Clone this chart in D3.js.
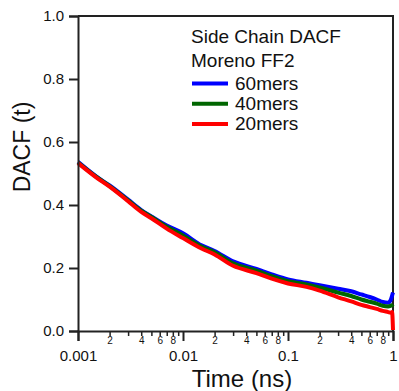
<!DOCTYPE html>
<html>
<head>
<meta charset="utf-8">
<script src="https://cdn.jsdelivr.net/npm/d3@7/dist/d3.min.js"></script>
<style>
  html, body { margin: 0; padding: 0; background: #fff; }
  svg { display: block; font-family: "Liberation Sans", Arial, sans-serif; }
</style>
</head>
<body>
<svg id="chart" width="399" height="391"></svg>
<script>
// ---- data ----
const times = [0.001, 0.0015, 0.002, 0.003, 0.004, 0.005, 0.007, 0.01, 0.015, 0.02, 0.03, 0.05, 0.07, 0.1, 0.15, 0.2, 0.3, 0.4, 0.5, 0.6, 0.7, 0.8, 0.9, 0.95, 0.98, 1.0];
const dacf60 = [0.537, 0.490, 0.462, 0.417, 0.384, 0.364, 0.335, 0.310, 0.272, 0.254, 0.221, 0.197, 0.180, 0.164, 0.153, 0.145, 0.134, 0.126, 0.116, 0.108, 0.100, 0.092, 0.090, 0.098, 0.112, 0.122];
const dacf40 = [0.535, 0.489, 0.460, 0.415, 0.382, 0.362, 0.331, 0.303, 0.268, 0.250, 0.215, 0.192, 0.174, 0.158, 0.148, 0.138, 0.122, 0.111, 0.100, 0.093, 0.087, 0.080, 0.078, 0.080, 0.082, 0.085];
const dacf20 = [0.533, 0.487, 0.458, 0.412, 0.378, 0.358, 0.325, 0.295, 0.262, 0.243, 0.207, 0.184, 0.166, 0.151, 0.140, 0.128, 0.107, 0.094, 0.083, 0.076, 0.070, 0.064, 0.060, 0.058, 0.060, 0.003];
const seriesNames = ["60mers", "40mers", "20mers"];
const seriesColors = ["#0000ff", "#006600", "#ff0000"];
const yTicks = [0, 0.2, 0.4, 0.6, 0.8, 1.0];
const xMajorTicks = [0.001, 0.01, 0.1, 1];
const xMajorLabels = ["0.001", "0.01", "0.1", "1"];
const legendTitle = ["Side Chain DACF", "Moreno FF2"];

// ---- layout ----
const svg = d3.select("#chart");
const L = 78, R = 393, T = 16, B = 331;
const x = d3.scaleLog().domain([0.001, 1]).range([L, R]);
const y = d3.scaleLinear().domain([0, 1]).range([B, T]);
const axisColor = "#222";

// frame (top and right)
svg.append("path")
  .attr("d", `M${L},${T}H${R}V${B}`)
  .attr("fill", "none").attr("stroke", axisColor).attr("stroke-width", 2);

// data lines
const series = [dacf60, dacf40, dacf20];
const line = d3.line().x((d, i) => x(times[i])).y(d => y(d)).curve(d3.curveMonotoneX);
series.forEach((vals, k) => {
  svg.append("path")
    .datum(vals)
    .attr("d", line)
    .attr("fill", "none")
    .attr("stroke", seriesColors[k])
    .attr("stroke-width", 4)
    .attr("stroke-linejoin", "round");
});

// y axis
const yAxis = d3.axisLeft(y).tickValues(yTicks).tickFormat(d3.format(".1f")).tickSize(9).tickPadding(5);
const gy = svg.append("g").attr("transform", `translate(${L},0)`).call(yAxis);
gy.select(".domain").attr("stroke", axisColor).attr("stroke-width", 2);
gy.selectAll(".tick line").attr("stroke", axisColor).attr("stroke-width", 2);
gy.selectAll(".tick text").attr("font-size", 15).attr("fill", "#111").attr("font-family", "Liberation Sans, Arial, sans-serif");

// x axis: major ticks
const xAxis = d3.axisBottom(x).tickValues(xMajorTicks)
  .tickFormat((d, i) => xMajorLabels[i]).tickSize(10).tickPadding(9);
const gx = svg.append("g").attr("transform", `translate(0,${B})`).call(xAxis);
gx.select(".domain").attr("stroke", axisColor).attr("stroke-width", 2);
gx.selectAll(".tick line").attr("stroke", axisColor).attr("stroke-width", 2);
gx.selectAll(".tick text").attr("font-size", 15).attr("fill", "#111").attr("font-family", "Liberation Sans, Arial, sans-serif");

// x axis: minor ticks with labels 2,4,6,8
const minorTicks = [];
[0.001, 0.01, 0.1].forEach(dec => { for (let m = 2; m <= 9; m++) minorTicks.push(dec * m); });
const xMinor = d3.axisBottom(x).tickValues(minorTicks)
  .tickFormat(d => { const m = Math.round(d / Math.pow(10, Math.floor(Math.log10(d) + 1e-9))); return (m % 2 === 0) ? String(m) : ""; })
  .tickSize(5).tickPadding(1);
const gxm = svg.append("g").attr("transform", `translate(0,${B})`).call(xMinor);
gxm.select(".domain").remove();
gxm.selectAll(".tick line").attr("stroke", axisColor).attr("stroke-width", 1.5);
gxm.selectAll(".tick text").attr("font-size", 10).attr("fill", "#111").attr("font-family", "Liberation Sans, Arial, sans-serif");

// axis titles
svg.append("text").attr("x", 242).attr("y", 387).attr("text-anchor", "middle")
  .attr("font-size", 24).attr("fill", "#111").text("Time (ns)");
svg.append("text").attr("transform", "translate(30,147) rotate(-90)").attr("text-anchor", "middle")
  .attr("font-size", 23).attr("fill", "#111").text("DACF (t)");

// legend
const lg = svg.append("g");
legendTitle.forEach((t, i) => {
  lg.append("text").attr("x", 191).attr("y", 43 + i * 23.5).attr("font-size", 19).attr("fill", "#111").text(t);
});
seriesNames.forEach((n, i) => {
  const yy = 83.5 + i * 20.2;
  lg.append("line").attr("x1", 192).attr("x2", 228).attr("y1", yy).attr("y2", yy)
    .attr("stroke", seriesColors[i]).attr("stroke-width", 4);
  lg.append("text").attr("x", 235).attr("y", yy + 6.5).attr("font-size", 19).attr("fill", "#111").text(n);
});
</script>
</body>
</html>
